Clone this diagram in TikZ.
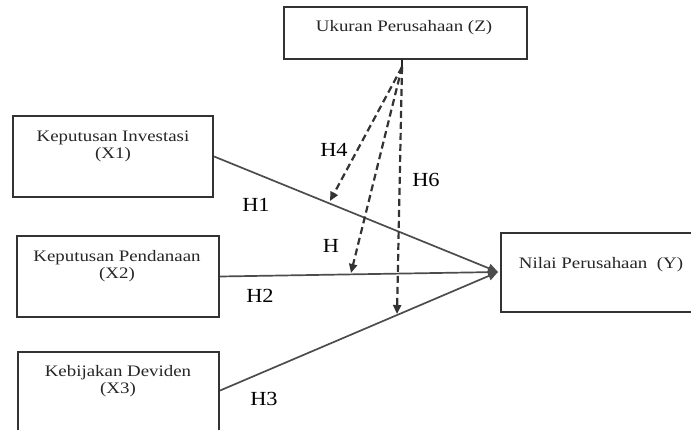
\documentclass[tikz,border=0pt]{standalone}
\usepackage{fontspec}
\setmainfont{Liberation Serif}
\newfontfamily\boxfont[FakeStretch=1.18]{Liberation Serif}
\newfontfamily\labfont[FakeStretch=1.12]{Liberation Serif}
\usetikzlibrary{arrows.meta,calc}
\begin{document}
\begin{tikzpicture}[x=1pt,y=-1pt,
  box/.style={draw=black!80,line width=2.2pt,fill=white,inner sep=0pt},
  btext/.style={font=\boxfont\fontsize{16}{17}\selectfont,text=black!85,align=center,anchor=north,inner sep=0pt},
  hlab/.style={font=\labfont\fontsize{20}{20}\selectfont,text=black,inner sep=0pt},
  mainpath/.style={draw=black!70,line width=1.7pt,-{Triangle[length=10pt,width=9pt]}},
  modpath/.style={draw=black!80,line width=2.2pt,dash pattern=on 7pt off 4pt,-{Triangle[length=9pt,width=8pt]}}
]
\useasboundingbox (0,0) rectangle (691,430);
\clip (0,0) rectangle (691,430);

% boxes
\node[box,minimum width=243pt,minimum height=52pt] (Z) at (405.5,33) {};
\node[box,minimum width=200pt,minimum height=81pt] (X1) at (113,156.5) {};
\node[box,minimum width=202pt,minimum height=81pt] (X2) at (118,276.5) {};
\node[box,minimum width=201pt,minimum height=81pt] (X3) at (118.5,392.5) {};
\node[box,minimum width=194pt,minimum height=79pt] (Y) at (598,272.5) {};

% box texts
\node[btext] (Zt) at (404,20) {Ukuran Perusahaan (Z)};
\node[btext] (X1t) at (113,131) {Keputusan Investasi\\(X1)};
\node[btext] (X2t) at (117,250) {Keputusan Pendanaan\\(X2)};
\node[btext] (X3t) at (118,365) {Kebijakan Deviden\\(X3)};
\node[btext] (Yt) at (601,257) {Nilai Perusahaan\ \ (Y)};

% coordinates
\coordinate (tipY) at (498,272);
\coordinate (zs) at (402,67);
\coordinate (zt) at (402,59);
\coordinate (h4e) at (330,201);
\coordinate (h5e) at (351,273);
\coordinate (h6e) at (397,314);

% main paths
\draw[mainpath] (X1.east) -- (tipY);
\draw[mainpath] (X2.east) -- (tipY);
\draw[mainpath] ($(X3.east)+(0,-2)$) -- (tipY);

% moderating paths
\draw[draw=black!85,line width=2.4pt] (zt) -- (zs);
\draw[modpath] (zs) -- (h4e);
\draw[modpath] (zs) -- (h5e);
\draw[modpath] (zs) -- (h6e);

% labels
\node[hlab] (H1) at (256,205) {H1};
\node[hlab] (H2) at (260,296) {H2};
\node[hlab] (H3) at (264,399) {H3};
\node[hlab] (H4) at (334,150) {H4};
\node[hlab] (H5) at (331,246) {H};
\node[hlab] (H6) at (426,180) {H6};
\end{tikzpicture}
\end{document}
